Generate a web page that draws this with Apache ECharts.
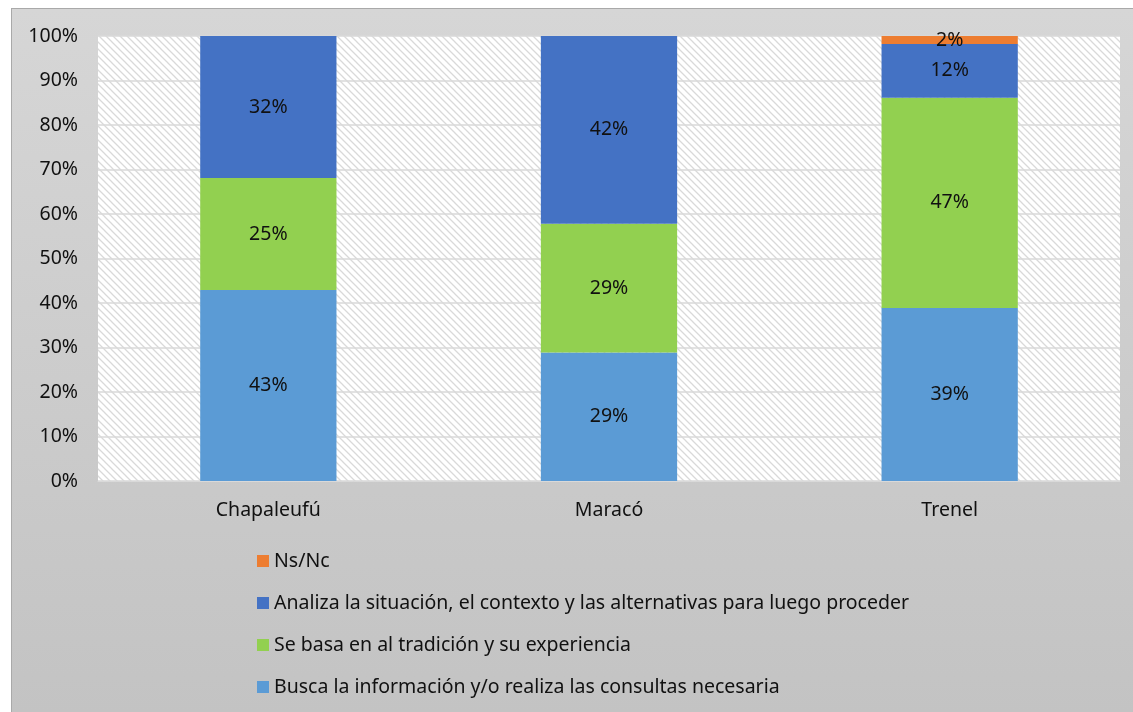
<!DOCTYPE html>
<html lang="es">
<head>
    <meta charset="UTF-8">
    <title>Toma de decisiones</title>
    <script src="https://cdn.jsdelivr.net/npm/echarts@6/dist/echarts.min.js"></script>
    <style>
        body { margin: 0; background: #fff; }
        #wrap {
            position: absolute; left: 11px; top: 8px; width: 1122px; height: 704px;
            border-left: 1px solid #a9a9a9; border-top: 1px solid #a9a9a9;
            background: linear-gradient(to bottom, #d6d6d6, #c3c3c3);
        }
        #chart_main { position: absolute; left: 0; top: 0; width: 1133px; height: 712px; }
    </style>
</head>
<body>
<div id="wrap"></div>
<div id="chart_main"></div>
<script>
  // datos
  var categories = ['Chapaleufú', 'Maracó', 'Trenel'];
  var busca = [42.9, 28.9, 38.9];
  var basa = [25.2, 28.9, 47.2];
  var analiza = [31.9, 42.2, 12.1];
  var nsnc = [0, 0, 1.8];
  var seriesNames = [
    'Busca la información y/o realiza las consultas necesaria',
    'Se basa en al tradición y su experiencia',
    'Analiza la situación, el contexto y las alternativas para luego proceder',
    'Ns/Nc'
  ];
  var colors = ['#5b9bd5', '#92d050', '#4472c4', '#ed7d31'];

  // trama diagonal del area del grafico
  var pat = document.createElement('canvas');
  pat.width = 7; pat.height = 7;
  var ctx = pat.getContext('2d');
  ctx.fillStyle = '#ffffff';
  ctx.fillRect(0, 0, 7, 7);
  ctx.strokeStyle = '#d9d9d9';
  ctx.lineWidth = 1.3;
  ctx.beginPath();
  ctx.moveTo(-1, -1); ctx.lineTo(8, 8);
  ctx.moveTo(-1, 6); ctx.lineTo(1, 8);
  ctx.moveTo(6, -1); ctx.lineTo(8, 1);
  ctx.stroke();

  var font = '"Noto Sans", sans-serif';
  var fs = 19.5;
  var myChart = echarts.init(document.getElementById('chart_main'));

  function mkSeries(i, data) {
    return {
      name: seriesNames[i],
      type: 'bar',
      stack: 'total',
      barWidth: '40%',
      itemStyle: { color: colors[i] },
      label: {
        show: true,
        position: 'inside',
        color: '#111',
        fontFamily: font,
        fontSize: fs,
        formatter: function(p) { return p.value > 0 ? Math.round(p.value) + '%' : ''; }
      },
      data: data
    };
  }

  var option = {
    animation: false,
    backgroundColor: 'transparent',
    grid: {
      left: 98, top: 36, width: 1022, height: 445,
      show: true,
      backgroundColor: { image: pat, repeat: 'repeat' },
      borderWidth: 0
    },
    legend: {
      orient: 'vertical',
      left: 252,
      top: 545,
      icon: 'rect',
      itemWidth: 12,
      itemHeight: 12,
      itemGap: 20,
      textStyle: { fontFamily: font, fontSize: fs, color: '#111', lineHeight: 22 },
      data: [seriesNames[3], seriesNames[2], seriesNames[1], seriesNames[0]]
    },
    xAxis: {
      type: 'category',
      data: categories,
      axisTick: { show: false },
      axisLine: { lineStyle: { color: '#d9d9d9' } },
      axisLabel: { color: '#111', fontFamily: font, fontSize: fs, margin: 19 }
    },
    yAxis: {
      type: 'value',
      min: 0, max: 100, interval: 10,
      axisLabel: {
        color: '#111', fontFamily: font, fontSize: fs, margin: 20,
        formatter: '{value}%'
      },
      splitLine: { lineStyle: { color: '#d9d9d9', width: 1.5 } }
    },
    series: [
      mkSeries(0, busca),
      mkSeries(1, basa),
      mkSeries(2, analiza),
      mkSeries(3, nsnc)
    ]
  };
  myChart.setOption(option);
</script>
</body>
</html>
